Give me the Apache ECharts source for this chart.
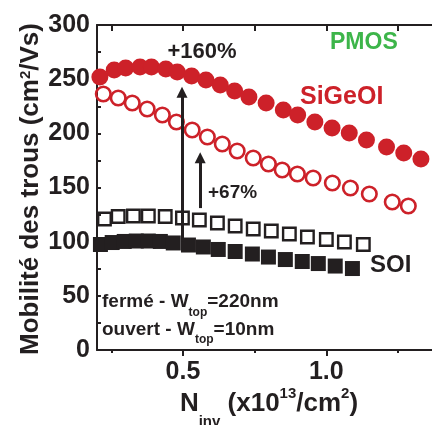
<!DOCTYPE html>
<html>
<head>
<meta charset="utf-8">
<script src="https://cdn.jsdelivr.net/npm/echarts@6/dist/echarts.min.js"></script>
<style>
html,body{margin:0;padding:0;background:#fff;overflow:hidden;width:432px;height:425px;}
#c{width:441px;height:425px;}
</style>
</head>
<body>
<div id="c"></div>
<script>
// SiGeOI, filled circles (fermé)
const sigeFilledX = [0.21,0.26,0.30,0.35,0.39,0.44,0.48,0.53,0.58,0.63,0.68,0.73,0.79,0.85,0.90,0.96,1.02,1.08,1.14,1.21,1.27,1.33];
const sigeFilledY = [252,258.5,260.3,261.2,261.2,259.4,256.6,252.9,249.2,244.6,239.1,233.5,228,221.5,216.9,210.5,204.9,200.3,193.8,187.4,181.8,176.3];
// SiGeOI, open circles (ouvert)
const sigeOpenX = [0.222,0.274,0.323,0.375,0.428,0.477,0.532,0.585,0.637,0.689,0.745,0.798,0.846,0.899,0.954,1.021,1.084,1.150,1.230,1.286];
const sigeOpenY = [236.3,232.6,228,222.5,216.9,210.5,203.1,196.6,190.2,183.7,177.2,171.7,166.2,162.5,158.8,154.2,149.5,144,136.6,132.9];
// SOI, open squares (ouvert)
const soiOpenX = [0.226,0.274,0.327,0.379,0.438,0.498,0.557,0.620,0.682,0.745,0.808,0.871,0.934,1.000,1.063,1.129];
const soiOpenY = [120.9,123.2,123.7,123.7,123.2,121.8,120,117.2,114.5,111.7,109.8,107.1,104.3,102,99.7,97.4];
// SOI, filled squares (fermé)
const soiFilledX = [0.212,0.253,0.295,0.337,0.379,0.421,0.466,0.519,0.571,0.623,0.682,0.742,0.798,0.857,0.916,0.972,1.031,1.091];
const soiFilledY = [97.4,99.2,100.2,100.6,100.6,100.2,98.8,96.9,95.1,92.8,90.9,88.6,85.8,83.5,81.7,79.8,77.5,75.2];

// tick values
const yTickLabels = [0,50,100,150,200,250,300];
const xTickLabels = [0.5,1.0];
const xMinorTicks = [0.25,0.75,1.25];
const xTopTicks = [0.25,0.5,0.75,1.0,1.25];

// annotation arrows: [x, yStart, yEnd]
const arrow160 = [0.4965, 100, 238];
const arrow67 = [0.560, 131, 177.5];

const RED = '#cd2129';
const INK = '#231f20';
const GREEN = '#3db54a';
const FF = '"Liberation Sans", Arial, Helvetica, sans-serif';

function zip(xs, ys){ return xs.map((x,i)=>[x, ys[i]]); }

const chart = echarts.init(document.getElementById('c'), null, {renderer:'canvas'});

const option = {
  animation: false,
  backgroundColor: '#fff',
  textStyle: {fontFamily: FF},
  grid: {left: 97, right: 0, top: 25, bottom: 75, containLabel: false, outerBoundsMode: 'none'},
  xAxis: [
    {
      type: 'value', position: 'bottom', min: 0.2, max: 1.4,
      axisLine: {show: true, onZero: false, lineStyle: {color: INK, width: 2}},
      axisTick: {show: true, inside: false, length: 6, customValues: xTickLabels, lineStyle: {color: INK, width: 2}},
      axisLabel: {show: true, customValues: xTickLabels, formatter: v => Number(v).toFixed(1),
        fontSize: 25, fontWeight: 'bold', color: INK, margin: 10, fontFamily: FF},
      splitLine: {show: false},
      name: '{t|N}{sub|inv}{t| (x10}{sup|13}{t|/cm}{sup|2}{t|)}',
      nameLocation: 'middle', nameGap: 36, nameMoveOverlap: false,
      nameTextStyle: {
        color: INK, fontFamily: FF, fontWeight: 'bold',
        rich: {
          t: {fontSize: 26, fontWeight: 'bold', color: INK, fontFamily: FF, lineHeight: 31, verticalAlign: 'bottom'},
          sup: {fontSize: 15, fontWeight: 'bold', color: INK, fontFamily: FF, lineHeight: 15, verticalAlign: 'top'},
          sub: {fontSize: 15, fontWeight: 'bold', color: INK, fontFamily: FF, lineHeight: 15, padding: [28,0,0,0], verticalAlign: 'top'}
        }
      }
    },
    {
      type: 'value', position: 'bottom', min: 0.2, max: 1.4,
      axisLine: {show: false, onZero: false},
      axisTick: {show: true, inside: false, length: 3, customValues: xMinorTicks, lineStyle: {color: INK, width: 2}},
      axisLabel: {show: false},
      splitLine: {show: false}
    },
    {
      type: 'value', position: 'top', min: 0.2, max: 1.4,
      axisLine: {show: true, onZero: false, lineStyle: {color: INK, width: 2}},
      axisTick: {show: true, inside: true, length: 6, customValues: xTopTicks, lineStyle: {color: INK, width: 2}},
      axisLabel: {show: false},
      splitLine: {show: false}
    }
  ],
  yAxis: {
    type: 'value', min: 0, max: 300, interval: 25,
    axisLine: {show: true, onZero: false, lineStyle: {color: INK, width: 2}},
    axisTick: {show: true, inside: true, length: 4, lineStyle: {color: INK, width: 2}},
    axisLabel: {show: true, customValues: yTickLabels, fontSize: 25, fontWeight: 'bold', color: INK, margin: 7, fontFamily: FF},
    splitLine: {show: false},
    name: '{t|Mobilité des trous (cm}{sup|2}{t|/Vs)}',
    nameLocation: 'middle', nameRotate: 90, nameGap: 56, nameMoveOverlap: false,
    nameTextStyle: {
      color: INK, fontFamily: FF, fontWeight: 'bold', padding: [0, 3, 0, 0],
      rich: {
        t: {fontSize: 26, fontWeight: 'bold', color: INK, fontFamily: FF, lineHeight: 27, padding: [4,0,0,0], verticalAlign: 'top'},
        sup: {fontSize: 15, fontWeight: 'bold', color: INK, fontFamily: FF, lineHeight: 15, padding: [4,0,0,0], verticalAlign: 'top'}
      }
    }
  },
  series: [
    {
      name: 'SiGeOI fermé', type: 'scatter', data: zip(sigeFilledX, sigeFilledY),
      symbol: 'circle', symbolSize: 17, itemStyle: {color: RED, opacity: 1}, z: 2
    },
    {
      name: 'SiGeOI ouvert', type: 'scatter', data: zip(sigeOpenX, sigeOpenY),
      symbol: 'circle', symbolSize: 14.5, itemStyle: {color: 'rgba(255,255,255,0)', borderColor: RED, borderWidth: 2.6, opacity: 1}, z: 2
    },
    {
      name: 'SOI ouvert', type: 'scatter', data: zip(soiOpenX, soiOpenY),
      symbol: 'rect', symbolSize: 12.5, itemStyle: {color: 'rgba(255,255,255,0)', borderColor: INK, borderWidth: 2.4, opacity: 1}, z: 2
    },
    {
      name: 'SOI fermé', type: 'scatter', data: zip(soiFilledX, soiFilledY),
      symbol: 'rect', symbolSize: 15, itemStyle: {color: INK, opacity: 1}, z: 2
    },
    {
      name: 'arrows', type: 'scatter', data: [], z: 5,
      itemStyle: {color: INK},
      markLine: {
        silent: true, symbol: ['none', 'triangle'], symbolSize: 11, precision: 4,
        itemStyle: {color: INK},
        lineStyle: {color: INK, width: 3, type: 'solid', opacity: 1},
        label: {show: false}, emphasis: {disabled: true},
        data: [
          [{coord: [arrow160[0], arrow160[1]]}, {coord: [arrow160[0], arrow160[2]]}],
          [{coord: [arrow67[0], arrow67[1]]}, {coord: [arrow67[0], arrow67[2]]}]
        ]
      }
    }
  ],
  graphic: [
    {type: 'text', x: 330, y: 43, z: 10, style: {text: 'PMOS', fill: GREEN, fontSize: 23, fontWeight: 'bold', fontFamily: FF, align: 'left', verticalAlign: 'middle'}},
    {type: 'text', x: 202, y: 52, z: 10, style: {text: '+160%', fill: INK, fontSize: 22, fontWeight: 'bold', fontFamily: FF, align: 'center', verticalAlign: 'middle'}},
    {type: 'text', x: 208, y: 193, z: 10, style: {text: '+67%', fill: INK, fontSize: 19, fontWeight: 'bold', fontFamily: FF, align: 'left', verticalAlign: 'middle'}},
    {type: 'text', x: 300, y: 97, z: 10, style: {text: 'SiGeOI', fill: RED, fontSize: 25, fontWeight: 'bold', fontFamily: FF, align: 'left', verticalAlign: 'middle'}},
    {type: 'text', x: 370, y: 265, z: 10, style: {text: 'SOI', fill: INK, fontSize: 24, fontWeight: 'bold', fontFamily: FF, align: 'left', verticalAlign: 'middle'}},
    {type: 'text', x: 102, y: 292, z: 10, style: {
      text: '{t|fermé - W}{sub|top}{t|=220nm}', align: 'left', verticalAlign: 'top',
      rich: {
        t: {fontSize: 19, fontWeight: 'bold', fill: INK, fontFamily: FF, lineHeight: 22, verticalAlign: 'top'},
        sub: {fontSize: 12, fontWeight: 'bold', fill: INK, fontFamily: FF, lineHeight: 12, padding: [15,0,0,0], verticalAlign: 'top'}
      }}},
    {type: 'text', x: 102, y: 320, z: 10, style: {
      text: '{t|ouvert - W}{sub|top}{t|=10nm}', align: 'left', verticalAlign: 'top',
      rich: {
        t: {fontSize: 19, fontWeight: 'bold', fill: INK, fontFamily: FF, lineHeight: 22, verticalAlign: 'top'},
        sub: {fontSize: 12, fontWeight: 'bold', fill: INK, fontFamily: FF, lineHeight: 12, padding: [14,0,0,0], verticalAlign: 'top'}
      }}}
  ]
};
chart.setOption(option);
</script>
</body>
</html>
